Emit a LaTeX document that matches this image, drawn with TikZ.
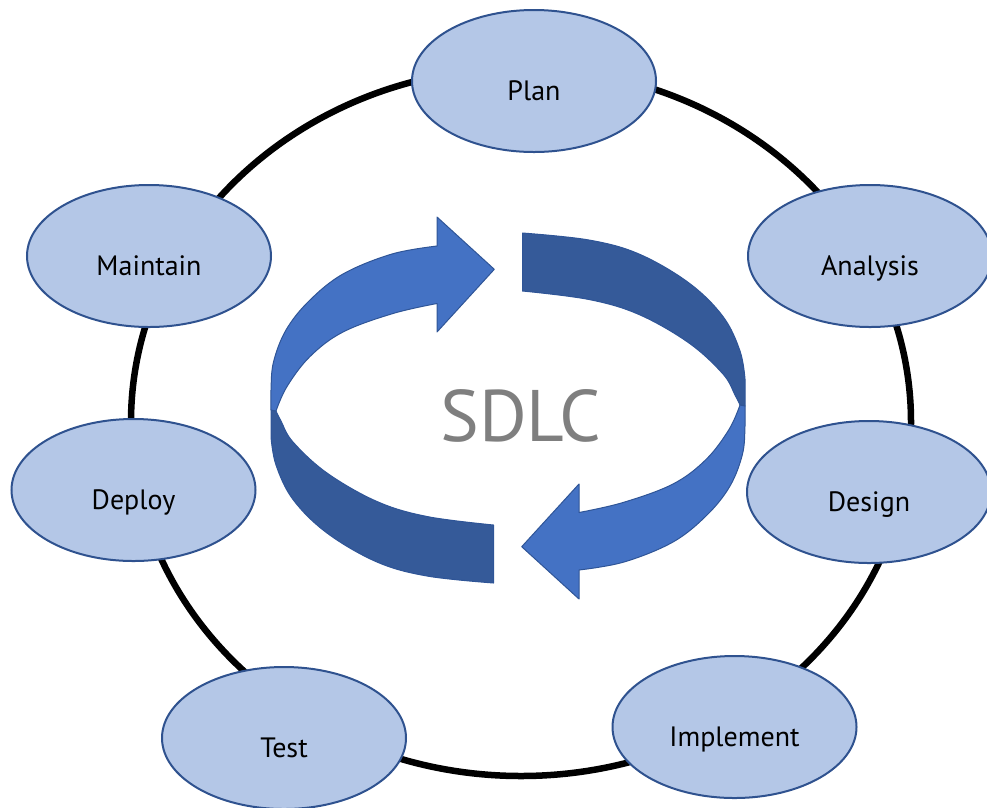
\documentclass[tikz,border=0pt]{standalone}
\usepackage{fontspec}
\setmainfont{PT Sans}
\usetikzlibrary{shapes.geometric}
\definecolor{ellfill}{HTML}{B4C7E7}
\definecolor{ellline}{HTML}{2F528F}
\definecolor{arrlight}{HTML}{4472C4}
\definecolor{arrdark}{HTML}{355A99}
\definecolor{arrline}{HTML}{2F5597}
\definecolor{sdlcgray}{HTML}{7F7F7F}
\tikzset{
  phase/.style={ellipse, draw=ellline, line width=2pt, fill=ellfill,
    minimum width=244pt, minimum height=142pt, inner sep=0pt,
    font=\fontsize{28}{32}\selectfont, text height=38.6pt, text depth=0pt},
  ring/.style={line width=6.5pt, draw=black},
  lightarrow/.style={fill=arrlight, draw=arrline, line width=1pt, line join=round},
  darkarrow/.style={fill=arrdark, draw=arrline, line width=1pt, line join=round},
  halfband/.pic={
    \path[darkarrow] (271,410) -- (276,411)
      -- plot[smooth, tension=0.6] coordinates {(276,411) (281,421) (293,442) (327,473) (377,501.5) (427,516.5) (493.5,525)}
      -- (493.5,583)
      -- plot[smooth, tension=0.6] coordinates {(493.5,583) (427,576) (377,562) (327,533) (293,499.5) (276,465) (271,437)}
      -- cycle;
    \path[lightarrow] plot[smooth, tension=0.6] coordinates {(271,410) (271,390) (273.5,362) (286,330) (309,301) (343,274) (392,254) (437,246)}
      -- (437,217) -- (494.3,269.3) -- (437,332) -- (437,303.5)
      -- plot[smooth, tension=0.6] coordinates {(437,303.5) (393,313.5) (343,332) (310,356.5) (287,386.5) (276,411)}
      -- cycle;
  }
}
\begin{document}
\begin{tikzpicture}[x=1pt,y=-1pt]
\useasboundingbox (0,0) rectangle (987,807);
\coordinate (ringc) at (521,422);
\draw[ring] (ringc) ellipse [x radius=390, y radius=354];
\pic at (0,0) {halfband};
\pic[rotate=180] at (1016,816) {halfband};
\node[font=\fontsize{73}{80}\selectfont, text=sdlcgray, text height=51pt, text depth=0pt, inner sep=0pt] (sdlc) at (521,416) {SDLC};
\node[phase] (plan) at (534,81) {Plan};
\node[phase] (analysis) at (870,256) {Analysis};
\node[phase] (design) at (869,492) {Design};
\node[phase] (implement) at (734.5,727) {Implement};
\node[phase] (test) at (284,738) {Test};
\node[phase] (deploy) at (133.5,490) {Deploy};
\node[phase] (maintain) at (149,256) {Maintain};
\end{tikzpicture}
\end{document}
